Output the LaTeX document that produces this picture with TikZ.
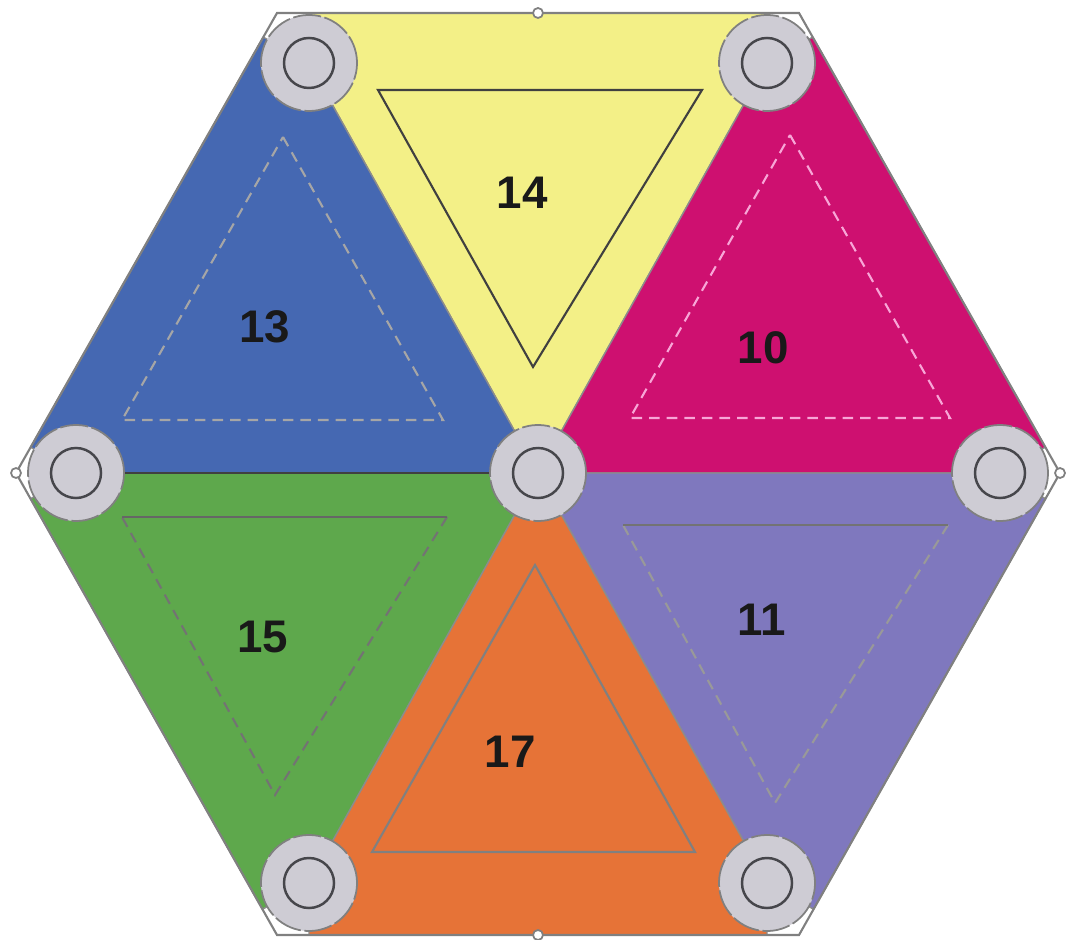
\documentclass[tikz,border=0pt]{standalone}
\usepackage{fontspec}
\setmainfont{Liberation Sans}
\usetikzlibrary{calc}
\definecolor{tileyellow}{RGB}{243,240,135}
\definecolor{tileblue}{RGB}{69,104,178}
\definecolor{tilemagenta}{RGB}{206,16,112}
\definecolor{tilegreen}{RGB}{94,168,76}
\definecolor{tilepurple}{RGB}{127,120,190}
\definecolor{tileorange}{RGB}{230,115,55}
\definecolor{hubgray}{RGB}{206,204,212}
\definecolor{rimgray}{RGB}{70,70,75}

\begin{document}
\begin{tikzpicture}[x=0.01cm,y=-0.01cm,
  lbl/.style={font=\fontsize{13}{15}\selectfont\bfseries,text=black!90},
  innerline/.style={line width=0.6pt,line join=miter},
  hub/.style={fill=hubgray,draw=black!50,line width=0.5pt,dash pattern=on 8pt off 1pt},
  hubcore/.style={draw=rimgray,line width=0.7pt},
  pin/.style={fill=white,draw=gray,line width=0.5pt}]
\useasboundingbox (0,0) rectangle (1067,940);

\coordinate (hTL) at (277,13);
\coordinate (hTR) at (799,13);
\coordinate (hR) at (1060,473);
\coordinate (hBR) at (799,935);
\coordinate (hBL) at (277,935);
\coordinate (hL) at (16,473);

\coordinate (cO) at (538,473);
\coordinate (cTL) at (309,63);
\coordinate (cTR) at (767,63);
\coordinate (cR) at (1000,473);
\coordinate (cBR) at (767,883);
\coordinate (cBL) at (309,883);
\coordinate (cL) at (76,473);

\foreach \a/\b/\col in {TL/TR/tileyellow,TR/R/tilemagenta,R/BR/tilepurple,
                        BR/BL/tileorange,BL/L/tilegreen,L/TL/tileblue}
  \filldraw[fill=\col,draw=black!45,line width=0.4pt]
    (cO) -- (c\a) -- ($(h\a)!(c\a)!(h\b)$) -- ($(h\a)!(c\b)!(h\b)$) -- (c\b) -- cycle;

\draw[black!75,line width=0.8pt] (cL) -- (cO);
\draw[gray,line width=0.6pt] (hTL) -- (hTR) -- (hR) -- (hBR) -- (hBL) -- (hL) -- cycle;

\draw[innerline,draw=black!75] (378,90) -- (702,90) -- (533,367) -- cycle;
\draw[innerline,draw=black!35,densely dashed] (283,137) -- (443,420) -- (122,420) -- cycle;
\draw[innerline,draw=magenta!35!white,densely dashed] (790,135) -- (950,418) -- (630,418) -- cycle;
\draw[innerline,draw=black!55,densely dashed] (447,517) -- (275,795) -- (122,517);
\draw[innerline,draw=black!60] (122,517) -- (447,517);
\draw[innerline,draw=black!40,densely dashed] (948,525) -- (775,803) -- (623,525);
\draw[innerline,draw=black!55] (623,525) -- (948,525);
\draw[innerline,draw=black!50] (535,565) -- (695,852) -- (372,852) -- cycle;

\node[lbl] (n14) at (522,193) {14};
\node[lbl] (n13) at (265,327) {13};
\node[lbl] (n10) at (763,348) {10};
\node[lbl] (n15) at (263,637) {15};
\node[lbl] (n11) at (762,620) {11};
\node[lbl] (n17) at (510,752) {17};

\foreach \c in {TL,TR,R,BR,BL,L,O} {
  \draw[hub] (c\c) circle[radius=0.48cm];
  \draw[hubcore] (c\c) circle[radius=0.25cm];
}

\foreach \p in {(hL),(hR),(538,13),(538,935)}
  \draw[pin] \p circle[radius=0.05cm];
\end{tikzpicture}
\end{document}
